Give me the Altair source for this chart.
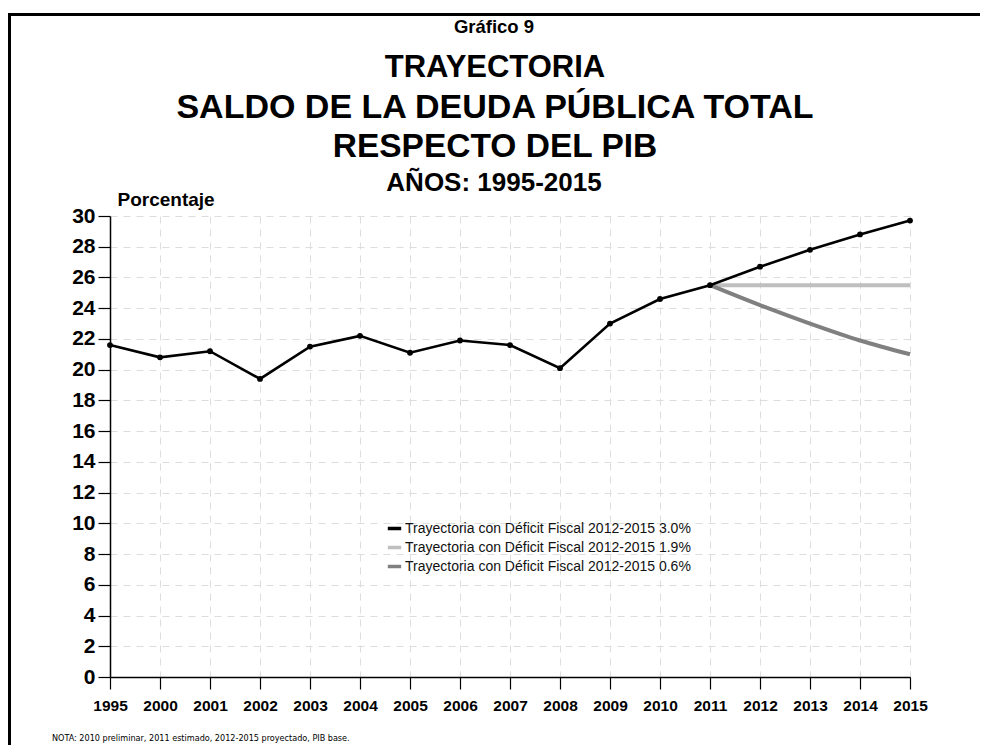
import altair as alt
import pandas as pd

# ---------------- data ----------------
years = ["1995", "2000", "2001", "2002", "2003", "2004", "2005", "2006", "2007",
         "2008", "2009", "2010", "2011", "2012", "2013", "2014", "2015"]
deficit_30 = [21.6, 20.8, 21.2, 19.4, 21.5, 22.2, 21.1, 21.9, 21.6,
              20.1, 23.0, 24.6, 25.5, 26.7, 27.8, 28.8, 29.7]
proj_years = ["2011", "2012", "2013", "2014", "2015"]
deficit_19 = [25.5, 25.5, 25.5, 25.5, 25.5]
deficit_06 = [25.5, 24.2, 23.0, 21.9, 21.0]
series_names = [
    "Trayectoria con Déficit Fiscal 2012-2015 3.0%",
    "Trayectoria con Déficit Fiscal 2012-2015 1.9%",
    "Trayectoria con Déficit Fiscal 2012-2015 0.6%",
]
series_colors = ["#000000", "#bfbfbf", "#808080"]
y_ticks = list(range(0, 31, 2))

title_small = "Gráfico 9"
title_big = ["TRAYECTORIA", "SALDO DE LA DEUDA PÚBLICA TOTAL", "RESPECTO DEL PIB"]
title_years = "AÑOS: 1995-2015"
note = "NOTA: 2010 preliminar, 2011 estimado, 2012-2015 proyectado, PIB base."

df_black = pd.DataFrame({"year": years, "value": deficit_30, "serie": series_names[0]})
df_gray = pd.concat([
    pd.DataFrame({"year": proj_years, "value": deficit_19, "serie": series_names[1]}),
    pd.DataFrame({"year": proj_years, "value": deficit_06, "serie": series_names[2]}),
])

FONT = "Liberation Sans"
COND = "DejaVu Sans Condensed"

x_enc = alt.X(
    "year:O", sort=years,
    scale=alt.Scale(type="point", padding=0),
    axis=alt.Axis(
        title=None, labelAngle=0, labelFontSize=15.5, labelFontWeight="bold",
        labelColor="#000", tickSize=12, tickColor="#000", tickWidth=1.2,
        domainColor="#000", domainWidth=1.5, labelPadding=9,
        grid=True, gridDash=[7, 6], gridColor="#dddddd", gridWidth=1,
    ),
)
y_enc = alt.Y(
    "value:Q",
    scale=alt.Scale(domain=[0, 30], nice=False, zero=True),
    axis=alt.Axis(
        values=y_ticks, title="Porcentaje", titleAngle=0, titleX=7, titleY=-17,
        titleAlign="left", titleBaseline="middle", titleFontSize=19,
        titleFontWeight="bold", titleColor="#000",
        labelFontSize=21, labelFontWeight="bold", labelColor="#000",
        tickSize=12, tickColor="#000", tickWidth=1.2, labelPadding=3,
        domainColor="#000", domainWidth=1.5,
        grid=True, gridDash=[7, 6], gridColor="#dddddd", gridWidth=1,
    ),
)
color_enc = alt.Color(
    "serie:N",
    scale=alt.Scale(domain=series_names, range=series_colors),
    legend=alt.Legend(
        title=None, orient="none", legendX=276, legendY=304,
        symbolType="stroke", symbolStrokeWidth=3.5, symbolSize=180,
        labelFontSize=14, labelFont=FONT, labelColor="#111", labelLimit=0,
        rowPadding=3, labelOffset=2, padding=0,
    ),
)

gray_lines = alt.Chart(df_gray).mark_line(strokeWidth=4, interpolate="monotone").encode(
    x=x_enc, y=y_enc, color=color_enc
)
black_line = alt.Chart(df_black).mark_line(strokeWidth=2.6).encode(
    x=x_enc, y=y_enc, color=color_enc
)
black_pts = alt.Chart(df_black).mark_circle(size=34, opacity=1).encode(
    x=x_enc, y=y_enc, color=color_enc
)

def text_layer(txt, size, x, y, weight="bold", align="center", font=FONT):
    return alt.Chart(pd.DataFrame({"t": [txt]})).mark_text(
        fontSize=size, fontWeight=weight, font=font, align=align,
        baseline="middle", color="#000"
    ).encode(text="t:N", x=alt.value(x), y=alt.value(y))

big_sizes = [31, 34, 33.5]
texts = [text_layer(title_small, 18.5, 384, -189)]
for i, line in enumerate(title_big):
    texts.append(text_layer(line, big_sizes[i], 385, -148 + i * 39.5))
texts.append(text_layer(title_years, 26, 384, -33))
texts.append(text_layer(note, 9, -58, 522, weight="normal", align="left", font=COND))

dummy = pd.DataFrame({"a": [0]})
border_top = alt.Chart(dummy).mark_rule(color="#000", strokeWidth=3).encode(
    x=alt.value(-102), x2=alt.value(880), y=alt.value(-201.5)
)
border_left = alt.Chart(dummy).mark_rule(color="#000", strokeWidth=3).encode(
    x=alt.value(-100.5), y=alt.value(-203), y2=alt.value(560)
)

chart = alt.layer(
    gray_lines, black_line, black_pts, border_top, border_left, *texts
).properties(
    width=800, height=461,
    autosize=alt.AutoSizeParams(type="none"),
    padding={"left": 102, "top": 208, "right": 70, "bottom": 68},
    background="white",
).configure(font=FONT).configure_view(stroke=None)

chart.save("out.html", embed_options={"renderer": "svg", "actions": False})
